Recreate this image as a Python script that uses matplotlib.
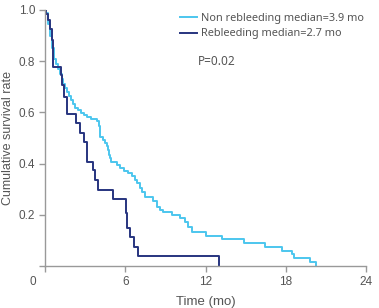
import matplotlib.pyplot as plt

# Non rebleeding (light blue): time of each drop (months) and survival after it
non_t = [0, 0.11, 0.19, 0.26, 0.34, 0.41, 0.49, 0.56, 0.64, 0.71, 0.82, 0.97, 1.12, 1.27, 1.38,
         1.50, 1.65, 1.80, 1.95, 2.09, 2.24, 2.47, 2.69, 2.92, 3.14, 3.44, 3.87, 4.06, 4.08, 4.11,
         4.36, 4.49, 4.64, 4.74, 4.79, 4.86, 4.94, 5.36, 5.61, 5.91, 6.21, 6.51, 6.73, 6.88, 7.11,
         7.26, 7.48, 8.10, 8.36, 8.60, 8.85, 9.48, 10.10, 10.47, 10.70, 10.97, 12.04, 13.22, 14.91,
         16.46, 17.71, 18.46, 18.65, 19.83, 20.24]
non_s = [1.0, 0.988, 0.969, 0.945, 0.922, 0.898, 0.875, 0.852, 0.828, 0.809, 0.789, 0.770, 0.750, 0.730, 0.711,
         0.695, 0.680, 0.664, 0.648, 0.633, 0.617, 0.609, 0.598, 0.590, 0.582, 0.574, 0.566, 0.547, 0.527, 0.504,
         0.492, 0.480, 0.469, 0.453, 0.434, 0.422, 0.406, 0.395, 0.383, 0.371, 0.363, 0.352, 0.336, 0.324, 0.305,
         0.289, 0.270, 0.254, 0.230, 0.219, 0.211, 0.199, 0.188, 0.172, 0.152, 0.133, 0.118, 0.104, 0.088,
         0.075, 0.060, 0.047, 0.031, 0.016, 0.0]

# Rebleeding (dark blue)
reb_t = [0, 0.11, 0.22, 0.34, 0.52, 0.58, 0.62, 1.20, 1.27, 1.42, 1.62, 2.32, 2.62, 2.92, 3.12,
         3.61, 3.74, 3.94, 5.11, 6.02, 6.10, 6.36, 6.68, 6.99, 13.02]
reb_s = [1.0, 0.984, 0.961, 0.926, 0.883, 0.836, 0.777, 0.746, 0.707, 0.660, 0.594, 0.559, 0.520, 0.484, 0.406,
         0.375, 0.336, 0.297, 0.262, 0.207, 0.148, 0.113, 0.074, 0.039, 0.0]

labels = ["Non rebleeding median=3.9 mo", "Rebleeding median=2.7 mo"]
p_text = "P=0.02"

grey = "#999999"
txt = "#555555"
fs = 8.5

fig = plt.figure(figsize=(3.79, 3.08), dpi=100)
ax = fig.add_axes([45 / 379, 42 / 308, 321 / 379, 256 / 308])

ax.step(non_t, non_s, where="post", color="#4CC6EE", lw=1.4, label=labels[0])
ax.step(reb_t, reb_s, where="post", color="#27347F", lw=1.4, label=labels[1])

ax.set_xlim(0, 24)
ax.set_ylim(0, 1.0)
ax.set_xticks([0, 6, 12, 18, 24])
ax.set_xticklabels(["", "6", "12", "18", "24"])
ax.set_yticks([0, 0.2, 0.4, 0.6, 0.8, 1.0])
ax.set_yticklabels(["", "0.2", "0.4", "0.6", "0.8", "1.0"])
for sp in ["top", "right"]:
    ax.spines[sp].set_visible(False)
for sp in ["left", "bottom"]:
    ax.spines[sp].set_color(grey)
    ax.spines[sp].set_linewidth(1.0)
ax.tick_params(colors=grey, labelcolor=txt, labelsize=fs, length=4, width=1.0, pad=3)
for lab in ax.get_xticklabels() + ax.get_yticklabels():
    lab.set_family("Liberation Sans")
ax.annotate("0", xy=(0, 0), xycoords="data", xytext=(-9, -7), textcoords="offset points",
            ha="center", va="top", fontsize=fs, color=txt, family="Liberation Sans")

ax.set_xlabel("Time (mo)", fontsize=9.5, color=txt, family="Liberation Sans", labelpad=6)
ax.set_ylabel("Cumulative survival rate", fontsize=9, color=txt, family="Liberation Sans")
ax.yaxis.set_label_coords(-0.098, 0.5)

leg = ax.legend(loc="upper left", bbox_to_anchor=(0.42, 0.99), frameon=False,
                prop={"family": "Noto Sans", "size": 7.9}, handlelength=1.6, handletextpad=0.3,
                labelspacing=0.45, borderaxespad=0, borderpad=0)
for t in leg.get_texts():
    t.set_color(txt)
ax.text(0.477, 0.797, p_text, transform=ax.transAxes, fontsize=8.5, color=txt,
        family="Noto Sans", va="center")

fig.savefig("out.png", dpi=100)
